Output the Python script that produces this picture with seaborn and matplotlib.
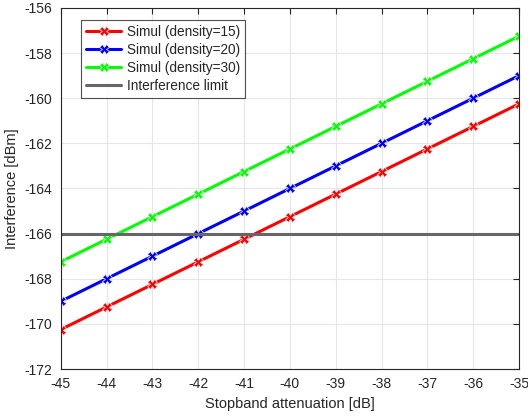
import numpy as np
import pandas as pd
import matplotlib
matplotlib.use("Agg")
import matplotlib.pyplot as plt
import seaborn as sns

# values
attenuation = [-45, -44, -43, -42, -41, -40, -39, -38, -37, -36, -35]
interf_d15 = [-170.25, -169.25, -168.25, -167.25, -166.25, -165.25, -164.25, -163.25, -162.25, -161.25, -160.25]
interf_d20 = [-169.0, -168.0, -167.0, -166.0, -165.0, -164.0, -163.0, -162.0, -161.0, -160.0, -159.0]
interf_d30 = [-167.25, -166.25, -165.25, -164.25, -163.25, -162.25, -161.25, -160.25, -159.25, -158.25, -157.25]
interf_limit = -166.0

labels = ["Simul (density=15)", "Simul (density=20)", "Simul (density=30)"]
colors = ["#ff0000", "#0000ff", "#00ff00"]

df = pd.DataFrame({
    "att": attenuation * 3,
    "interf": interf_d15 + interf_d20 + interf_d30,
    "series": [labels[0]] * 11 + [labels[1]] * 11 + [labels[2]] * 11,
})
limit_df = pd.DataFrame({"att": [attenuation[0], attenuation[-1]], "interf": [interf_limit] * 2})

sns.set_style("white")
plt.rcParams["font.family"] = ["Liberation Sans", "DejaVu Sans"]
plt.rcParams["axes.unicode_minus"] = False

fig, ax = plt.subplots(figsize=(5.28, 4.17), dpi=100)

sns.lineplot(data=df, x="att", y="interf", hue="series", palette=dict(zip(labels, colors)),
             marker="X", markersize=7, markeredgewidth=0.5, linewidth=2.2, ax=ax)
sns.lineplot(data=limit_df, x="att", y="interf", color="#666666", linewidth=2.2,
             label="Interference limit", ax=ax)

ax.set_xlim(-45, -35)
ax.set_ylim(-172, -156)
ax.set_xticks(attenuation)
ax.set_yticks(np.arange(-172, -155, 2))
ax.set_xlabel("Stopband attenuation [dB]", fontsize=10.5, color="#262626")
ax.set_ylabel("Interference [dBm]", fontsize=10.5, color="#262626")
ax.grid(True, color="#e6e6e6", linewidth=0.8)
ax.tick_params(direction="in", length=4, top=True, right=True, labelsize=10, colors="#262626",
               pad=6)
for s in ax.spines.values():
    s.set_color("#262626")
    s.set_linewidth(0.8)

leg = ax.legend(loc="upper left", bbox_to_anchor=(0.03, 0.985), fontsize=9.8, frameon=True,
                fancybox=False, edgecolor="#262626", handlelength=2.6, borderpad=0.35,
                labelspacing=0.3, handletextpad=0.4)
leg.get_frame().set_linewidth(0.8)

fig.subplots_adjust(left=0.115, right=0.983, top=0.981, bottom=0.115)
fig.savefig("out.png", dpi=100)
